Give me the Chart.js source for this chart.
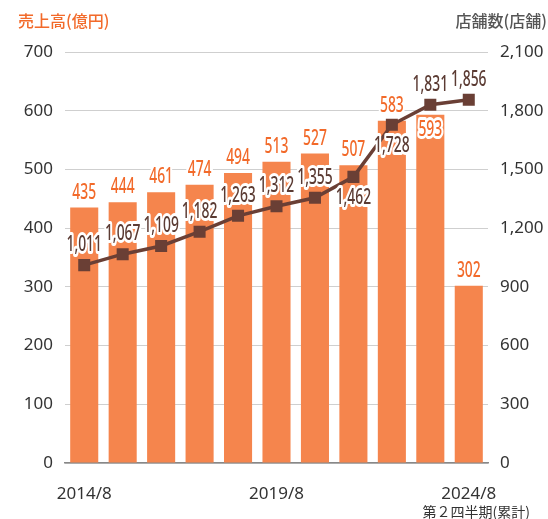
<!DOCTYPE html>
<html>
<head>
<meta charset="utf-8">
<script src="https://cdn.jsdelivr.net/npm/chart.js@4.4.1/dist/chart.umd.min.js"></script>
<style>
  html, body { margin: 0; padding: 0; background: #fff; }
  #wrap { position: relative; width: 548px; height: 519px; }
</style>
</head>
<body>
<div id="wrap"><canvas id="salesChart" width="548" height="519"></canvas></div>
<script>
// chart data
const periods = ['2014/8', '2015/8', '2016/8', '2017/8', '2018/8', '2019/8',
  '2020/8', '2021/8', '2022/8', '2023/8', '2024/8'];
const shownPeriods = [0, 5, 10];
const sales = [435, 444, 461, 474, 494, 513, 527, 507, 583, 593, 302];   // 億円
const stores = [1011, 1067, 1109, 1182, 1263, 1312, 1355, 1462, 1728, 1831, 1856];

// which labels sit below the point / inside the bar
const storeLabelBelow = [7, 8];
const salesLabelInside = [9];

const ORANGE_BAR = '#f5854d';
const ORANGE_TEXT = '#f26a2a';
const BROWN = '#6a3f35';
const BROWN_TEXT = '#5b3b33';
const LABEL_FONT = '500 21px "Noto Sans", "DejaVu Sans", sans-serif';
const TICK_FONT = { family: '"Noto Sans", "DejaVu Sans", sans-serif', size: 17 };

function fmt(n) {
  return n.toLocaleString('en-US');
}

// condensed look: squeeze the text horizontally
function outlinedText(ctx, text, x, y, color) {
  ctx.save();
  ctx.translate(x, y);
  ctx.scale(0.66, 1);
  ctx.lineJoin = 'round';
  ctx.lineWidth = 6;
  ctx.strokeStyle = '#fff';
  ctx.strokeText(text, 0, 0);
  ctx.fillStyle = color;
  ctx.fillText(text, 0, 0);
  ctx.restore();
}

// value labels for bars and the line
const valueLabels = {
  id: 'valueLabels',
  afterDatasetsDraw(chart) {
    const ctx = chart.ctx;
    ctx.save();
    ctx.font = LABEL_FONT;
    ctx.textAlign = 'center';
    ctx.textBaseline = 'middle';

    chart.getDatasetMeta(0).data.forEach((bar, i) => {
      const y = salesLabelInside.includes(i) ? bar.y + 15 : bar.y - 15;
      outlinedText(ctx, fmt(sales[i]), bar.x, y, ORANGE_TEXT);
    });

    chart.getDatasetMeta(1).data.forEach((pt, i) => {
      const y = storeLabelBelow.includes(i) ? pt.y + 21 : pt.y - 20;
      outlinedText(ctx, fmt(stores[i]), pt.x, y, BROWN_TEXT);
    });
    ctx.restore();
  }
};

// axis titles and the footnote under the last period
const axisTitles = {
  id: 'axisTitles',
  afterDraw(chart) {
    const ctx = chart.ctx;
    ctx.save();
    ctx.textBaseline = 'middle';
    ctx.font = '500 16px "Noto Sans CJK JP", sans-serif';
    ctx.textAlign = 'left';
    ctx.fillStyle = ORANGE_TEXT;
    ctx.fillText('売上高(億円)', 18, 21);
    ctx.textAlign = 'right';
    ctx.fillStyle = '#555';
    ctx.fillText('店舗数(店舗)', 547, 21);
    ctx.font = '14px "Noto Sans CJK JP", sans-serif';
    ctx.fillStyle = '#333';
    ctx.fillText('第２四半期(累計)', 530, 512);
    ctx.restore();
  }
};

const ctx = document.getElementById('salesChart').getContext('2d');
new Chart(ctx, {
  data: {
    labels: periods,
    datasets: [
      {
        type: 'bar',
        label: '売上高',
        data: sales,
        yAxisID: 'ySales',
        backgroundColor: ORANGE_BAR,
        categoryPercentage: 1,
        barPercentage: 0.73,
        order: 1
      },
      {
        type: 'line',
        label: '店舗数',
        data: stores,
        yAxisID: 'yStores',
        borderColor: BROWN,
        borderWidth: 3.5,
        pointStyle: 'rect',
        pointRadius: 8.5,
        pointBackgroundColor: BROWN,
        pointBorderWidth: 0,
        tension: 0,
        order: 0
      }
    ]
  },
  options: {
    responsive: false,
    animation: false,
    layout: { padding: { top: 52, left: 0, right: 0, bottom: 0 } },
    plugins: {
      legend: { display: false },
      tooltip: { enabled: false }
    },
    scales: {
      x: {
        grid: { display: false, drawTicks: false },
        border: { color: '#888', width: 1.5 },
        ticks: {
          autoSkip: false,
          maxRotation: 0,
          padding: 21,
          color: '#333',
          font: TICK_FONT,
          callback: (v, i) => shownPeriods.includes(i) ? periods[i] : ''
        },
        afterFit: s => { s.height = 56; }
      },
      ySales: {
        position: 'left',
        min: 0,
        max: 700,
        ticks: { stepSize: 100, padding: 12, color: '#333', font: TICK_FONT },
        grid: { color: '#cfcfcf', lineWidth: 1, drawTicks: false },
        border: { display: false },
        afterFit: s => { s.width = 65; }
      },
      yStores: {
        position: 'right',
        min: 0,
        max: 2100,
        ticks: {
          stepSize: 300,
          padding: 12,
          color: '#333',
          font: TICK_FONT,
          callback: v => fmt(v)
        },
        grid: { display: false, drawTicks: false },
        border: { display: false },
        afterFit: s => { s.width = 60; }
      }
    }
  },
  plugins: [valueLabels, axisTitles]
});
</script>
</body>
</html>
